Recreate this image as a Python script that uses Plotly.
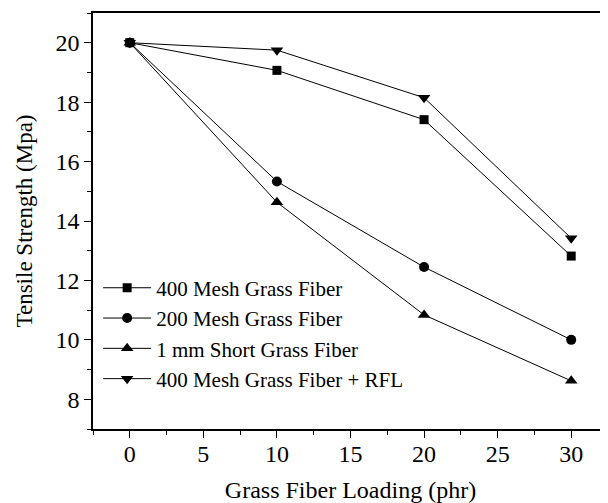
import plotly.graph_objects as go

loading = [0, 10, 20, 30]
mesh400 = [20, 19.07, 17.41, 12.82]
mesh200 = [20, 15.33, 12.45, 10.0]
short1mm = [20, 14.63, 10.84, 8.62]
mesh400_rfl = [20, 19.75, 18.15, 13.42]

series = [
    ("400 Mesh Grass Fiber", mesh400, "square", 9),
    ("200 Mesh Grass Fiber", mesh200, "circle", 10),
    ("1 mm Short Grass Fiber", short1mm, "triangle-up", 11),
    ("400 Mesh Grass Fiber + RFL", mesh400_rfl, "triangle-down", 11),
]

x_ticks = [0, 5, 10, 15, 20, 25, 30]
y_ticks = [8, 10, 12, 14, 16, 18, 20]

fig = go.Figure()
for name, vals, sym, size in series:
    fig.add_trace(go.Scatter(
        x=loading, y=vals, name=name, mode="lines+markers",
        line=dict(color="black", width=1),
        marker=dict(symbol=sym, size=size, color="black"),
    ))

font_family = "Times New Roman, Liberation Serif, DejaVu Serif, serif"
# the page body has an 8px margin, so the figure is sized to fit the window
fig.update_layout(
    width=600, height=495,
    margin=dict(l=85, r=0, t=5, b=74, autoexpand=False),
    paper_bgcolor="white", plot_bgcolor="white",
    font=dict(family=font_family, color="black", size=22),
    showlegend=True,
    legend=dict(
        x=0.01, y=0.388, xanchor="left", yanchor="top",
        bgcolor="rgba(0,0,0,0)", font=dict(size=21, family=font_family),
        tracegroupgap=0, itemwidth=48,
    ),
    xaxis=dict(
        range=[-2.5, 32.5], tickvals=x_ticks, ticktext=[str(v) for v in x_ticks],
        showline=True, linecolor="black", linewidth=1.5, mirror=True,
        ticks="outside", ticklen=7, tickwidth=1.2, tickcolor="black",
        showgrid=False, zeroline=False, automargin=False,
        ticklabelstandoff=-5,
        minor=dict(dtick=2.5, ticks="outside", ticklen=4, tickcolor="black", tickwidth=1, showgrid=False),
        title=dict(text="Grass Fiber Loading (phr)", font=dict(size=24, family=font_family), standoff=16),
        tickfont=dict(size=24, family=font_family),
    ),
    yaxis=dict(
        range=[7, 21], tickvals=y_ticks, ticktext=[str(v) for v in y_ticks],
        showline=True, linecolor="black", linewidth=1.5,
        ticks="outside", ticklen=7, tickwidth=1.2, tickcolor="black",
        showgrid=False, zeroline=False, automargin=False,
        minor=dict(dtick=1, ticks="outside", ticklen=4, tickcolor="black", tickwidth=1, showgrid=False),
        title=dict(text="Tensile Strength (Mpa)", font=dict(size=23, family=font_family), standoff=16),
        tickfont=dict(size=24, family=font_family),
    ),
)

fig.write_html("out.html")
